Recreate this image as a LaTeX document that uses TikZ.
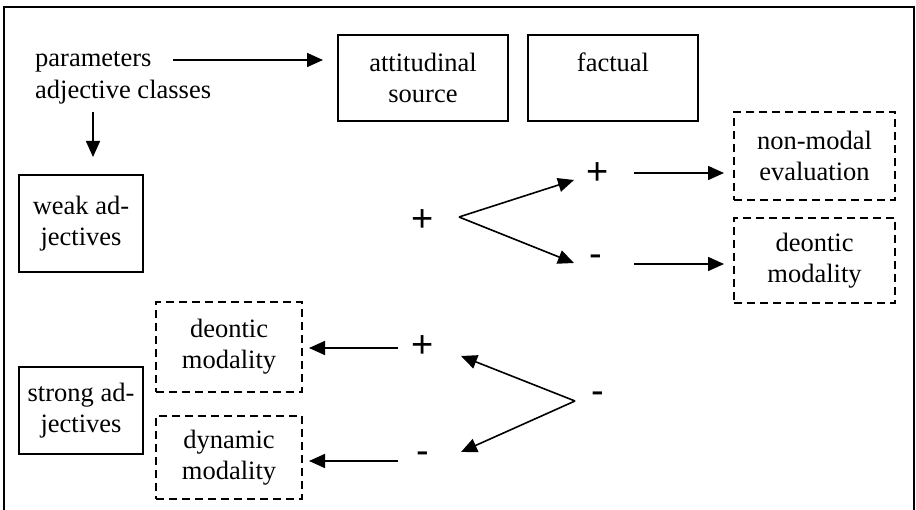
\documentclass[tikz,border=0pt]{standalone}
\usepackage{fontspec}
\setmainfont{Liberation Serif}
\newfontfamily\signfont{Liberation Sans}
\usetikzlibrary{arrows.meta}
\tikzset{
  box/.style={draw, line width=1.6pt, rectangle, inner sep=0pt, align=center,
    font=\fontsize{26.5}{31}\selectfont},
  dbox/.style={box, dash pattern=on 8pt off 5pt, line width=1.5pt},
  lbl/.style={inner sep=0pt, font=\fontsize{26.5}{31}\selectfont},
  sign/.style={inner sep=0pt, font=\signfont\fontsize{38}{38}\selectfont},
  arr/.style={line width=1.6pt, -{Triangle[length=16pt,width=14pt]}},
  frame/.style={line width=1.5pt}
}
\begin{document}
\begin{tikzpicture}[x=1pt,y=-1pt]
\useasboundingbox (0,0) rectangle (916,510);
% outer frame, open at the bottom
\draw[frame] (4,510) -- (4,7) -- (914,7) -- (914,510);

% header labels
\node[lbl, anchor=west] (params) at (35,62) {parameters};
\node[lbl, anchor=west] (adjc) at (35,92) {adjective classes};

% top boxes
\node[box, minimum width=170pt, minimum height=86pt] (att) at (423,78) {attitudinal\\source};
\node[box, minimum width=170pt, minimum height=86pt] (fact) at (613,78) {factual\\\mbox{}};

% adjective classes
\node[box, minimum width=124pt, minimum height=97pt] (weak) at (81,223.5) {weak ad-\\jectives};
\node[box, minimum width=124pt, minimum height=87pt] (strong) at (81,410.5) {strong ad-\\jectives};

% outcome boxes
\node[dbox, minimum width=161pt, minimum height=88pt] (nme) at (814.5,156) {non-modal\\evaluation};
\node[dbox, minimum width=161pt, minimum height=85pt] (deoR) at (814.5,260.5) {deontic\\modality};
\node[dbox, minimum width=146pt, minimum height=90pt] (deoL) at (229,347) {deontic\\modality};
\node[dbox, minimum width=146pt, minimum height=83pt] (dyn) at (229,457.5) {dynamic\\modality};

% signs
\node[sign] (p1) at (423,221) {+};
\node[sign] (p2) at (598,174) {+};
\node[sign] (m2) at (596,261) {-};
\node[sign] (p3) at (423,347) {+};
\node[sign] (m3) at (423,458) {-};
\node[sign] (m1) at (598,398) {-};

% connector ends
\coordinate (parS) at (173,60);
\coordinate (parE) at (323,60);
\coordinate (clsS) at (93,112);
\coordinate (clsE) at (93,157);
\coordinate (b1) at (459,217);
\coordinate (b1u) at (574,180);
\coordinate (b1d) at (574,263);
\coordinate (b2) at (575,401);
\coordinate (b2u) at (461,356);
\coordinate (b2d) at (461,452);
\coordinate (p2S) at (634,173);
\coordinate (p2E) at (724,173);
\coordinate (m2S) at (634,264);
\coordinate (m2E) at (724,264);
\coordinate (p3S) at (398,348);
\coordinate (p3E) at (309,348);
\coordinate (m3S) at (398,461);
\coordinate (m3E) at (309,461);

% connectors
\draw[arr] (parS) -- (parE);
\draw[arr] (clsS) -- (clsE);
\draw[arr] (b1) -- (b1u);
\draw[arr] (b1) -- (b1d);
\draw[arr] (p2S) -- (p2E);
\draw[arr] (m2S) -- (m2E);
\draw[arr] (b2) -- (b2u);
\draw[arr] (b2) -- (b2d);
\draw[arr] (p3S) -- (p3E);
\draw[arr] (m3S) -- (m3E);
\end{tikzpicture}
\end{document}
